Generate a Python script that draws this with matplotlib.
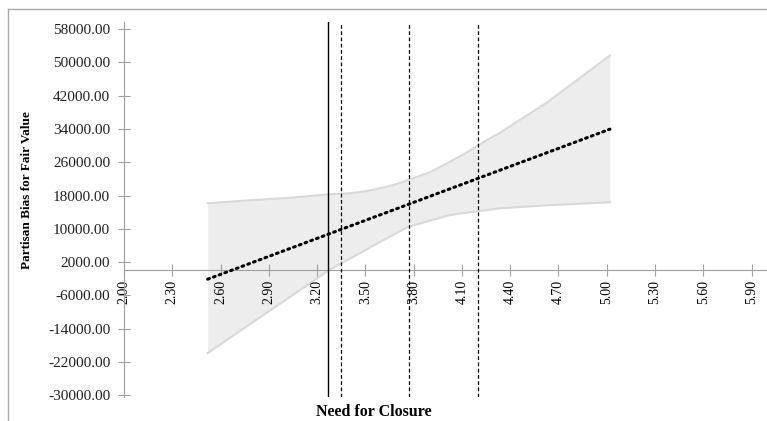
import matplotlib.pyplot as plt
from matplotlib.lines import Line2D
import numpy as np

# simple slope of Partisan Bias on Need for Closure
line_x = [2.52, 5.02]
line_y = [-2090, 33950]

# confidence band
band_x = [2.52, 2.78, 3.03, 3.27, 3.40, 3.50, 3.59, 3.68, 3.76, 3.90,
          4.02, 4.11, 4.20, 4.34, 4.63, 5.02]
band_hi = [16150, 16870, 17470, 18300, 18550, 19030, 19750, 20590, 21670, 23600,
           26000, 27900, 30070, 33190, 40390, 51670]
band_lo = [-19850, -12980, -6400, 0, 2790, 4870, 6860, 8700, 10390, 11950,
           13270, 13800, 14230, 14950, 15670, 16390]

# region of significance marks
solid_x = [3.27]
dashed_x = [3.35, 3.77, 4.20]

xticks = np.arange(2.0, 5.95, 0.3)
yticks = np.arange(-30000, 58001, 8000)

plt.rcParams['font.family'] = ['Liberation Serif', 'DejaVu Serif']

fig = plt.figure(figsize=(7.67, 4.21), dpi=100)
ax = fig.add_axes([0.1617, 0.057, 0.8370, 0.8907])

ax.fill_between(band_x, band_lo, band_hi, color='#ededed', lw=0, zorder=1)
ax.plot(band_x, band_hi, color='#d9d9d9', lw=1.5, zorder=1.2)
ax.plot(band_x, band_lo, color='#d9d9d9', lw=1.5, zorder=1.2)

for xv in solid_x:
    ax.axvline(xv, color='black', lw=1, zorder=3)
for xv in dashed_x:
    ax.axvline(xv, color='black', lw=0.9, ls=(0, (3, 2)), zorder=3)

ax.plot(line_x, line_y, color='black', lw=2.2, ls=(0, (0.6, 1.4)),
        dash_capstyle='round', zorder=4)

ax.set_xlim(2.0, 5.99)
ax.set_ylim(-30400, 59700)
ax.set_xticks(xticks)
ax.set_xticklabels(['%.2f' % v for v in xticks], fontsize=9, color='#222222')
ax.set_yticks(yticks)
ax.set_yticklabels(['%.2f' % v for v in yticks], fontsize=11, color='#222222')

for s in ['top', 'right']:
    ax.spines[s].set_visible(False)
ax.spines['bottom'].set_position(('data', 0))
ax.spines['bottom'].set_color('#a0a0a0')
ax.spines['left'].set_color('#a0a0a0')
ax.tick_params(axis='both', direction='inout', length=8, width=0.8,
               color='#a0a0a0')
ax.tick_params(axis='y', pad=6)
ax.tick_params(axis='x', pad=3, labelrotation=90)

ax.set_ylabel('Partisan Bias for Fair Value', fontsize=9.5, fontweight='bold')
ax.yaxis.set_label_coords(-0.142, 0.553)
fig.text(0.487, 0.022, 'Need for Closure', fontsize=11.5, fontweight='bold',
         ha='center', va='center')

# light frame around the figure
fig.add_artist(Line2D([8 / 767, 8 / 767], [0, 1 - 9 / 421], color='#aaaaaa', lw=1))
fig.add_artist(Line2D([8 / 767, 1], [1 - 9 / 421, 1 - 9 / 421], color='#aaaaaa', lw=1))

fig.savefig('out.png', dpi=100)
